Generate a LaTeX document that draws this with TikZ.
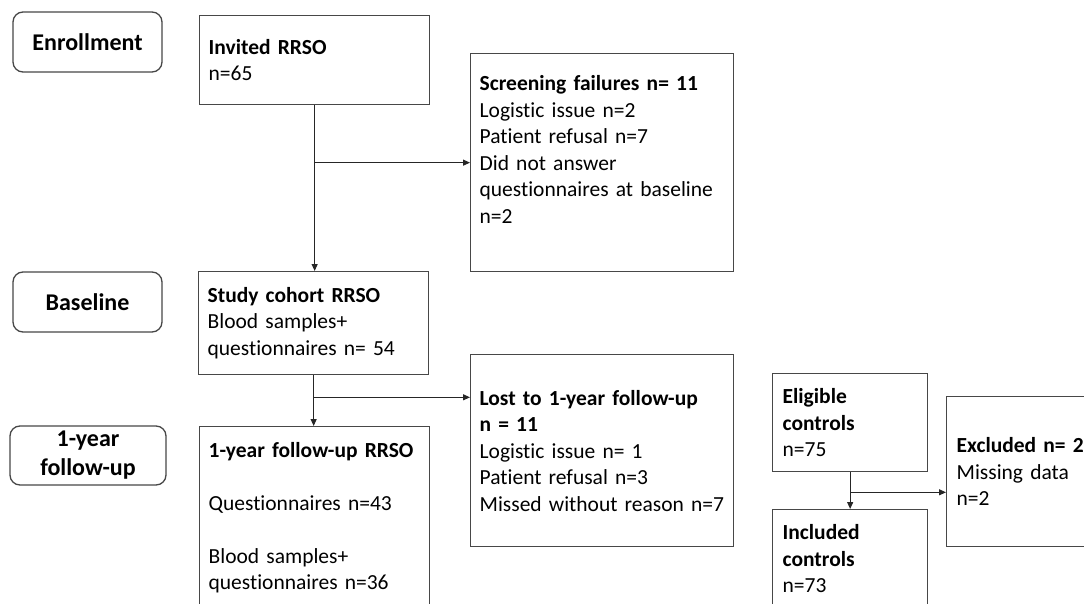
\documentclass[tikz,border=0pt]{standalone}
\usepackage{fontspec}
\setmainfont{Carlito}[Ligatures={NoCommon}]
\usetikzlibrary{arrows.meta}
\tikzset{
  bx/.style={draw=black!72, line width=1.3pt, anchor=north west, align=left,
    inner xsep=9pt, inner ysep=0pt, font=\fontsize{21.5}{26.5}\selectfont},
  lbl/.style={draw=black!72, line width=1.3pt, rounded corners=10pt, align=center,
    inner sep=0pt, font=\fontsize{24}{29}\selectfont\bfseries},
  arr/.style={draw=black!85, line width=1.1pt, -{Triangle[length=7pt,width=6pt]}},
}
\begin{document}
\begin{tikzpicture}[x=1pt,y=-1pt]
\useasboundingbox (0,0) rectangle (1084,604);
\clip (0,0) rectangle (1084,604);
\fill[white] (0,0) rectangle (1084,604);

% stage labels
\node[lbl, minimum width=149pt, minimum height=60pt] (en) at (87.5,42) {Enrollment};
\node[lbl, minimum width=149pt, minimum height=60pt] (ba) at (87.5,302) {Baseline};
\node[lbl, minimum width=156pt, minimum height=59pt] (fy) at (88,455.5) {1-year\\follow-up};

% boxes
\node[bx, text width=212pt, minimum height=89pt] (inv) at (199,15)
  {\textbf{Invited RRSO}\\n=65};
\node[bx, text width=245pt, minimum height=218pt] (scr) at (470,53)
  {\textbf{Screening failures n= 11}\\Logistic issue n=2\\Patient refusal n=7\\Did not answer\\questionnaires at baseline\\n=2\\\mbox{}};
\node[bx, text width=212pt, minimum height=103pt] (stu) at (198,271)
  {\textbf{Study cohort RRSO}\\Blood samples+\\questionnaires n= 54};
\node[bx, text width=212pt, minimum height=182pt] (fu) at (199,426)
  {\textbf{1-year follow-up RRSO}\\[26.5pt]Questionnaires n=43\\[26.5pt]Blood samples+\\questionnaires n=36};
\node[bx, text width=245pt, minimum height=192pt] (lost) at (470,354)
  {\textbf{Lost to 1-year follow-up}\\\textbf{n = 11}\\Logistic issue n= 1\\Patient refusal n=3\\Missed without reason n=7};
\node[bx, text width=135pt, minimum height=98pt, inner xsep=10pt] (eli) at (772,373)
  {\textbf{Eligible}\\\textbf{controls}\\n=75};
\node[bx, text width=135pt, minimum height=98pt, inner xsep=10pt] (inc) at (772,509)
  {\textbf{Included}\\\textbf{controls}\\n=73};
\node[bx, text width=140pt, minimum height=150pt, inner xsep=10pt] (exc) at (946,396)
  {\textbf{Excluded n= 2}\\Missing data\\n=2};

% connectors
\draw[arr] (inv.south) -- (inv.south |- stu.north);
\draw[arr] (inv.south |- scr.west) -- (scr.west);
\coordinate (j2) at ([yshift=-22pt]stu.south);
\draw[arr] (stu.south) -- (stu.south |- fu.north);
\draw[arr] (j2) -- (j2 -| lost.west);
\coordinate (j3) at ([yshift=-20pt]eli.south);
\draw[arr] (eli.south) -- (inc.north);
\draw[arr] (j3) -- (j3 -| exc.west);
\end{tikzpicture}
\end{document}
